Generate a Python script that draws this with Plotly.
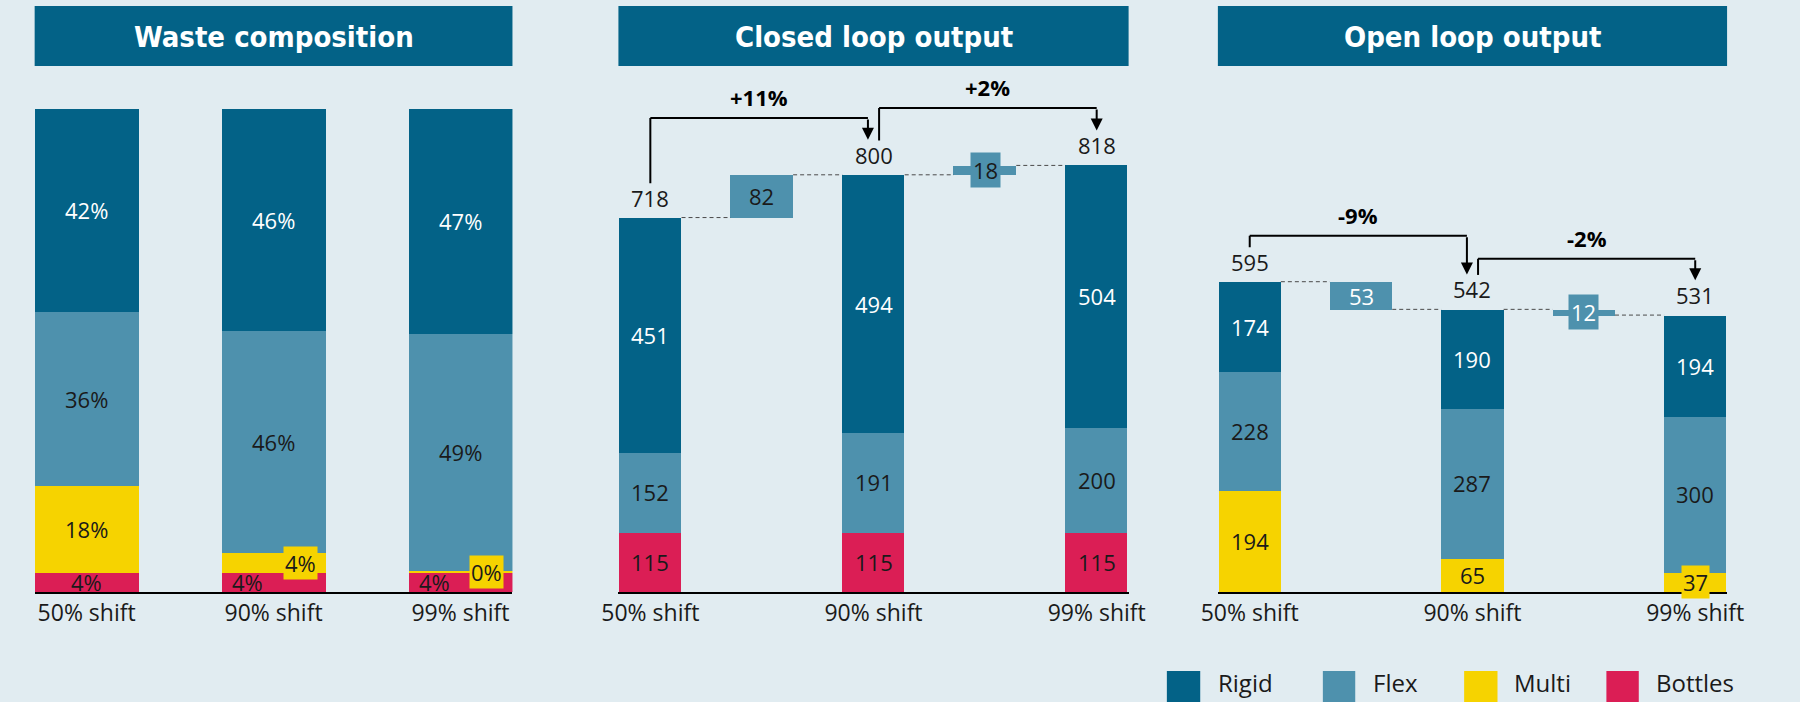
import plotly.graph_objects as go

# ---------------- data ----------------
categories = ["50% shift", "90% shift", "99% shift"]
series = ["Rigid", "Flex", "Multi", "Bottles"]
panel_titles = ["Waste composition", "Closed loop output", "Open loop output"]

# Waste composition (% of waste)
waste_rigid = [42, 46, 47]
waste_flex = [36, 46, 49]
waste_multi = [18, 4, 0.4]
waste_bottles = [4, 4, 4]

# Closed loop output
closed_rigid = [451, 494, 504]
closed_flex = [152, 191, 200]
closed_multi = [0, 0, 0]
closed_bottles = [115, 115, 115]
closed_totals = [718, 800, 818]
closed_changes = [82, 18]

# Open loop output
open_rigid = [174, 190, 194]
open_flex = [228, 287, 300]
open_multi = [194, 65, 37]
open_bottles = [0, 0, 0]
open_totals = [595, 542, 531]
open_changes = [-53, -12]

# ---------------- style ----------------
BG = "#E1ECF1"
COLORS = {"Rigid": "#036287", "Flex": "#4E91AD", "Multi": "#F6D300", "Bottles": "#DB1E55"}
DARK = "#1a1a1a"
FONT = "Open Sans, Noto Sans, sans-serif"
TITLE_FONT = "Liberation Sans Narrow, DejaVu Sans Condensed, Arial Narrow, sans-serif"
W, H = 1800, 702


def px_x(p):
    return p / W


def px_y(p):
    return 1 - p / H


fig = go.Figure()

stack_order = ["Bottles", "Multi", "Flex", "Rigid"]
panels = [
    dict(data={"Rigid": waste_rigid, "Flex": waste_flex, "Multi": waste_multi, "Bottles": waste_bottles},
         xs=[0, 1, 2], width=0.556, ax="x", ay="y", pct=True,
         label_color={"Rigid": "white", "Flex": DARK, "Multi": DARK, "Bottles": DARK}),
    dict(data={"Rigid": closed_rigid, "Flex": closed_flex, "Multi": closed_multi, "Bottles": closed_bottles},
         xs=[0, 2, 4], width=0.559, ax="x2", ay="y2", pct=False,
         label_color={"Rigid": "white", "Flex": DARK, "Multi": DARK, "Bottles": DARK},
         totals=closed_totals, changes=closed_changes, bridge_color=DARK,
         bracket_tops=[909, 928], boxed_bridges=[1]),
    dict(data={"Rigid": open_rigid, "Flex": open_flex, "Multi": open_multi, "Bottles": open_bottles},
         xs=[0, 2, 4], width=0.559, ax="x3", ay="y3", pct=False,
         label_color={"Rigid": "white", "Flex": DARK, "Multi": DARK, "Bottles": DARK},
         totals=open_totals, changes=open_changes, bridge_color="white",
         bracket_tops=[683, 639], boxed_bridges=[1]),
]

# label x-shifts for overflowing small segments in panel 1
label_shift = {(0, 1, "Bottles"): -26, (0, 1, "Multi"): 27,
               (0, 2, "Bottles"): -26, (0, 2, "Multi"): 26}
# labels drawn on a coloured box because they overflow their segment
boxed_labels = {(0, 1, "Multi"), (0, 2, "Multi"), (2, 2, "Multi")}

annotations = []
shapes = []

for pi, p in enumerate(panels):
    cum = [0.0] * 3
    for s in stack_order:
        vals = p["data"][s]
        fig.add_trace(go.Bar(
            x=p["xs"], y=vals, name=s, marker=dict(color=COLORS[s], line=dict(width=0)),
            width=p["width"], xaxis=p["ax"], yaxis=p["ay"], showlegend=False,
            hoverinfo="skip"))
        for i, v in enumerate(vals):
            if v > 0:
                txt = f"{v:.0f}%" if p["pct"] else f"{v:.0f}"
                boxed = (pi, i, s) in boxed_labels
                annotations.append(dict(
                    x=p["xs"][i], y=cum[i] + v / 2, xref=p["ax"], yref=p["ay"],
                    text=txt, showarrow=False,
                    bgcolor=COLORS[s] if boxed else None, borderpad=1,
                    xshift=label_shift.get((pi, i, s), 0),
                    font=dict(family=FONT, size=22, color=p["label_color"][s])))
            cum[i] += v
    if "totals" in p:
        t = p["totals"]
        for i, tv in enumerate(t):
            annotations.append(dict(x=p["xs"][i], y=tv, xref=p["ax"], yref=p["ay"],
                                    text=str(tv), showarrow=False, yanchor="bottom", yshift=3,
                                    font=dict(family=FONT, size=22, color=DARK)))
        bx, bbase, bh = [], [], []
        for i, c in enumerate(p["changes"]):
            bx.append(p["xs"][i] + 1)
            bbase.append(min(t[i], t[i] + c))
            bh.append(abs(c))
        fig.add_trace(go.Bar(x=bx, y=bh, base=bbase, width=p["width"],
                             marker=dict(color=COLORS["Flex"], line=dict(width=0)),
                             xaxis=p["ax"], yaxis=p["ay"], showlegend=False, hoverinfo="skip"))
        hw = p["width"] / 2
        for i, c in enumerate(p["changes"]):
            boxed = i in p["boxed_bridges"]
            annotations.append(dict(x=bx[i], y=bbase[i] + bh[i] / 2, xref=p["ax"], yref=p["ay"],
                                    text=str(abs(c)), showarrow=False,
                                    bgcolor=COLORS["Flex"] if boxed else None, borderpad=2,
                                    font=dict(family=FONT, size=22, color=p["bridge_color"])))
            dash = dict(color="#4a4a4a", width=1, dash="4px,3px")
            shapes.append(dict(type="line", xref=p["ax"], yref=p["ay"],
                               x0=p["xs"][i] + hw, x1=bx[i] - hw, y0=t[i], y1=t[i], line=dash))
            shapes.append(dict(type="line", xref=p["ax"], yref=p["ay"],
                               x0=bx[i] + hw, x1=p["xs"][i + 1] - hw, y0=t[i + 1], y1=t[i + 1],
                               line=dash))
            # brackets with arrows
            xs0 = p["xs"][i] + (0.05 if i > 0 else 0)
            xs1 = p["xs"][i + 1] - (0.05 if i == 0 else 0)
            top = p["bracket_tops"][i]
            start = t[i] + 66
            tip = t[i + 1] + 67
            bl = dict(color="black", width=2)
            shapes.append(dict(type="line", xref=p["ax"], yref=p["ay"],
                               x0=xs0, x1=xs0, y0=start, y1=top, line=bl))
            shapes.append(dict(type="line", xref=p["ax"], yref=p["ay"],
                               x0=xs0, x1=xs1, y0=top, y1=top, line=bl))
            annotations.append(dict(x=xs1, y=tip, ax=xs1, ay=top, xref=p["ax"], yref=p["ay"],
                                    axref=p["ax"], ayref=p["ay"], text="", showarrow=True,
                                    arrowhead=2, arrowsize=1.2, arrowwidth=2, arrowcolor="black",
                                    standoff=0))
            pct = round((t[i + 1] - t[i]) / t[i] * 100)
            ptxt = f"+{pct}%" if pct > 0 else f"{pct}%"
            annotations.append(dict(x=(xs0 + xs1) / 2, y=top, xref=p["ax"], yref=p["ay"],
                                    text=f"<b>{ptxt}</b>", showarrow=False, yanchor="bottom",
                                    yshift=4, font=dict(family=FONT, size=22, color="black")))

# title boxes
title_boxes = [(18, 505), (613, 1133), (1224, 1743)]
for (x0, x1), ttl in zip(title_boxes, panel_titles):
    shapes.append(dict(type="rect", xref="paper", yref="paper", x0=px_x(x0), x1=px_x(x1),
                       y0=px_y(66), y1=px_y(6), fillcolor=COLORS["Rigid"], line=dict(width=0),
                       layer="below"))
    annotations.append(dict(x=px_x((x0 + x1) / 2), y=px_y(37), xref="paper", yref="paper",
                            text=f"<b>{ttl}</b>", showarrow=False, xanchor="center", yanchor="middle",
                            font=dict(family=TITLE_FONT, size=29, color="white")))

# legend
legend_pos = [(1172, 1206, 1222), (1331, 1364, 1380), (1475, 1509, 1524), (1620, 1653, 1669)]
for (sx0, sx1, tx), s in zip(legend_pos, series):
    shapes.append(dict(type="rect", xref="paper", yref="paper", x0=px_x(sx0), x1=px_x(sx1),
                       y0=px_y(702), y1=px_y(671), fillcolor=COLORS[s], line=dict(width=0)))
    annotations.append(dict(x=px_x(tx), y=px_y(701), xref="paper", yref="paper", text=s,
                            showarrow=False, xanchor="left", yanchor="bottom",
                            font=dict(family=FONT, size=24, color=DARK)))

y_bottom = 110 / H
xcommon = dict(showgrid=False, zeroline=False, showline=True, linecolor="black", linewidth=1.5,
               ticks="", tickfont=dict(family=FONT, size=23, color=DARK), fixedrange=True)
ycommon = dict(visible=False, showgrid=False, zeroline=False, fixedrange=True)

fig.update_layout(
    width=W, height=H, margin=dict(l=0, r=0, t=0, b=0),
    paper_bgcolor=BG, plot_bgcolor=BG, barmode="stack", bargap=0,
    showlegend=False,
    xaxis=dict(domain=[px_x(18), px_x(505)], range=[-0.278, 2.278], tickvals=[0, 1, 2],
               ticktext=categories, anchor="y", **xcommon),
    yaxis=dict(domain=[y_bottom, 1 - 109 / H], range=[0, 100], anchor="x", **ycommon),
    xaxis2=dict(domain=[px_x(613), px_x(1133)], range=[-0.286, 4.286], tickvals=[0, 2, 4],
                ticktext=categories, anchor="y2", **xcommon),
    yaxis2=dict(domain=[y_bottom, y_bottom + 521.5 / H], range=[0, 1000], anchor="x2", **ycommon),
    xaxis3=dict(domain=[px_x(1224), px_x(1743)], range=[-0.286, 4.286], tickvals=[0, 2, 4],
                ticktext=categories, anchor="y3", **xcommon),
    yaxis3=dict(domain=[y_bottom, y_bottom + 521.5 / H], range=[0, 1000], anchor="x3", **ycommon),
    annotations=annotations, shapes=shapes,
)

fig.write_html("out.html", config={"displayModeBar": False},
               post_script="document.body.style.margin='0';document.body.style.background='%s';" % BG)
